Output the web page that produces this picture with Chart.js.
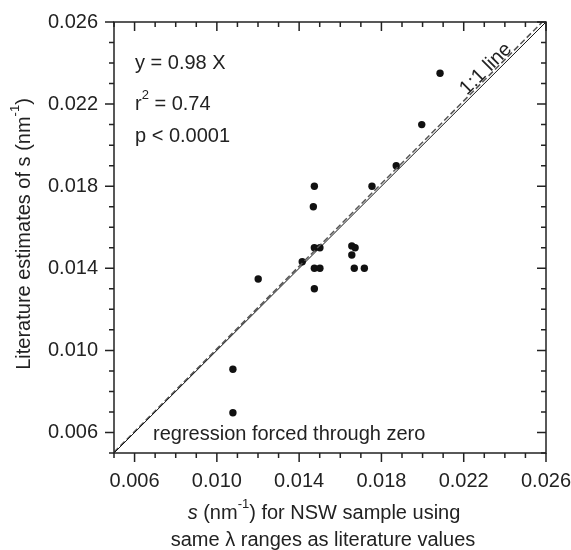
<!DOCTYPE html>
<html>
<head>
<meta charset="utf-8">
<script src="https://cdn.jsdelivr.net/npm/chart.js@4.4.1/dist/chart.umd.min.js"></script>
<style>
  body { margin: 0; background: #fff; }
  #wrap { width: 571px; height: 550px; }
</style>
</head>
<body>
<div id="wrap"><canvas id="chart" width="571" height="550"></canvas></div>
<script>
// valeurs
const xVals = [0.02085, 0.01996, 0.01872, 0.01754, 0.01474, 0.01469, 0.01474, 0.01501, 0.01415, 0.01474,
               0.01501, 0.01474, 0.01201, 0.01656, 0.01672, 0.01656, 0.01668, 0.01717, 0.01078, 0.01078];
const yVals = [0.0235, 0.0210, 0.0190, 0.0180, 0.0180, 0.0170, 0.0150, 0.0150, 0.01432, 0.0140,
               0.0140, 0.0130, 0.01348, 0.01509, 0.0150, 0.01465, 0.0140, 0.0140, 0.00908, 0.00696];

// droite 1:1 et droite de regression (tiretee)
const lineX = [0.005, 0.026];
const lineY = [0.005, 0.026];
const fitX = [0.005, 0.02582];
const fitY = [0.00504, 0.026];

const tickLabels = [0.006, 0.010, 0.014, 0.018, 0.022, 0.026];
const axisMin = 0.005, axisMax = 0.026;

const FONT = '"Liberation Sans", Arial, Helvetica, sans-serif';
const FS = 20;

function toPts(xs, ys) {
  return xs.map((x, i) => ({ x: x, y: ys[i] }));
}

// texte avec exposants / italique
function drawRich(ctx, parts, x, y, align) {
  const widths = parts.map(p => {
    ctx.font = (p.italic ? 'italic ' : '') + (p.sup ? FS * 0.65 : FS) + 'px ' + FONT;
    return ctx.measureText(p.t).width;
  });
  const total = widths.reduce((a, b) => a + b, 0);
  let cx = align === 'center' ? x - total / 2 : x;
  ctx.textAlign = 'left';
  ctx.textBaseline = 'middle';
  parts.forEach((p, i) => {
    ctx.font = (p.italic ? 'italic ' : '') + (p.sup ? FS * 0.65 : FS) + 'px ' + FONT;
    ctx.fillText(p.t, cx, p.sup ? y - FS * 0.42 : y);
    cx += widths[i];
  });
}

const framePlugin = {
  id: 'frame',
  afterDraw(chart) {
    const ctx = chart.ctx;
    const xs = chart.scales.x, ys = chart.scales.y;
    const a = chart.chartArea;
    ctx.save();
    ctx.strokeStyle = '#222';
    ctx.fillStyle = '#222';
    ctx.lineWidth = 1.5;
    ctx.strokeRect(a.left, a.top, a.right - a.left, a.bottom - a.top);

    for (let i = 5; i <= 26; i++) {
      const v = i / 1000;
      const major = (i - 6) % 4 === 0;
      const len = major ? 9 : 5;
      const px = xs.getPixelForValue(v);
      const py = ys.getPixelForValue(v);
      ctx.beginPath();
      // bas et gauche vers l'exterieur, haut et droite vers l'interieur
      ctx.moveTo(px, a.bottom); ctx.lineTo(px, a.bottom + len);
      ctx.moveTo(px, a.top); ctx.lineTo(px, a.top + len);
      ctx.moveTo(a.left, py); ctx.lineTo(a.left - len, py);
      ctx.moveTo(a.right, py); ctx.lineTo(a.right - len, py);
      ctx.stroke();
    }

    ctx.font = FS + 'px ' + FONT;
    ctx.textBaseline = 'middle';
    tickLabels.forEach(v => {
      ctx.textAlign = 'center';
      ctx.fillText(v.toFixed(3), xs.getPixelForValue(v), 481);
      ctx.textAlign = 'right';
      ctx.fillText(v.toFixed(3), 98, ys.getPixelForValue(v));
    });

    // titres des axes
    drawRich(ctx, [{ t: 's', italic: true }, { t: ' (nm' }, { t: '-1', sup: true }, { t: ') for NSW sample using' }], 324, 513, 'center');
    drawRich(ctx, [{ t: 'same \u03bb ranges as literature values' }], 323, 540, 'center');
    ctx.save();
    ctx.translate(24, 234);
    ctx.rotate(-Math.PI / 2);
    drawRich(ctx, [{ t: 'Literature estimates of s (nm' }, { t: '-1', sup: true }, { t: ')' }], 0, 0, 'center');
    ctx.restore();

    // annotations
    drawRich(ctx, [{ t: 'y = 0.98 X' }], 135, 63, 'left');
    drawRich(ctx, [{ t: 'r' }, { t: '2', sup: true }, { t: ' = 0.74' }], 135, 104, 'left');
    drawRich(ctx, [{ t: 'p < 0.0001' }], 135, 136, 'left');
    drawRich(ctx, [{ t: 'regression forced through zero' }], 153, 434, 'left');

    ctx.save();
    ctx.translate(486, 69);
    ctx.rotate(-Math.PI / 4);
    drawRich(ctx, [{ t: '1:1 line' }], 0, 0, 'center');
    ctx.restore();

    ctx.restore();
  }
};

new Chart(document.getElementById('chart'), {
  type: 'scatter',
  data: {
    datasets: [
      {
        label: '1:1',
        data: toPts(lineX, lineY),
        showLine: true,
        borderColor: '#111',
        borderWidth: 1,
        pointRadius: 0
      },
      {
        label: 'regression',
        data: toPts(fitX, fitY),
        showLine: true,
        borderColor: '#555',
        borderWidth: 1.5,
        borderDash: [6, 3],
        pointRadius: 0
      },
      {
        label: 'data',
        data: toPts(xVals, yVals),
        backgroundColor: '#111',
        borderColor: '#111',
        pointRadius: 3.7,
        borderWidth: 0
      }
    ]
  },
  options: {
    responsive: false,
    animation: false,
    layout: { padding: { left: 114, right: 25, top: 22, bottom: 97 } },
    plugins: { legend: { display: false }, tooltip: { enabled: false } },
    scales: {
      x: { type: 'linear', min: axisMin, max: axisMax, display: false },
      y: { type: 'linear', min: axisMin, max: axisMax, display: false }
    }
  },
  plugins: [framePlugin]
});
</script>
</body>
</html>
